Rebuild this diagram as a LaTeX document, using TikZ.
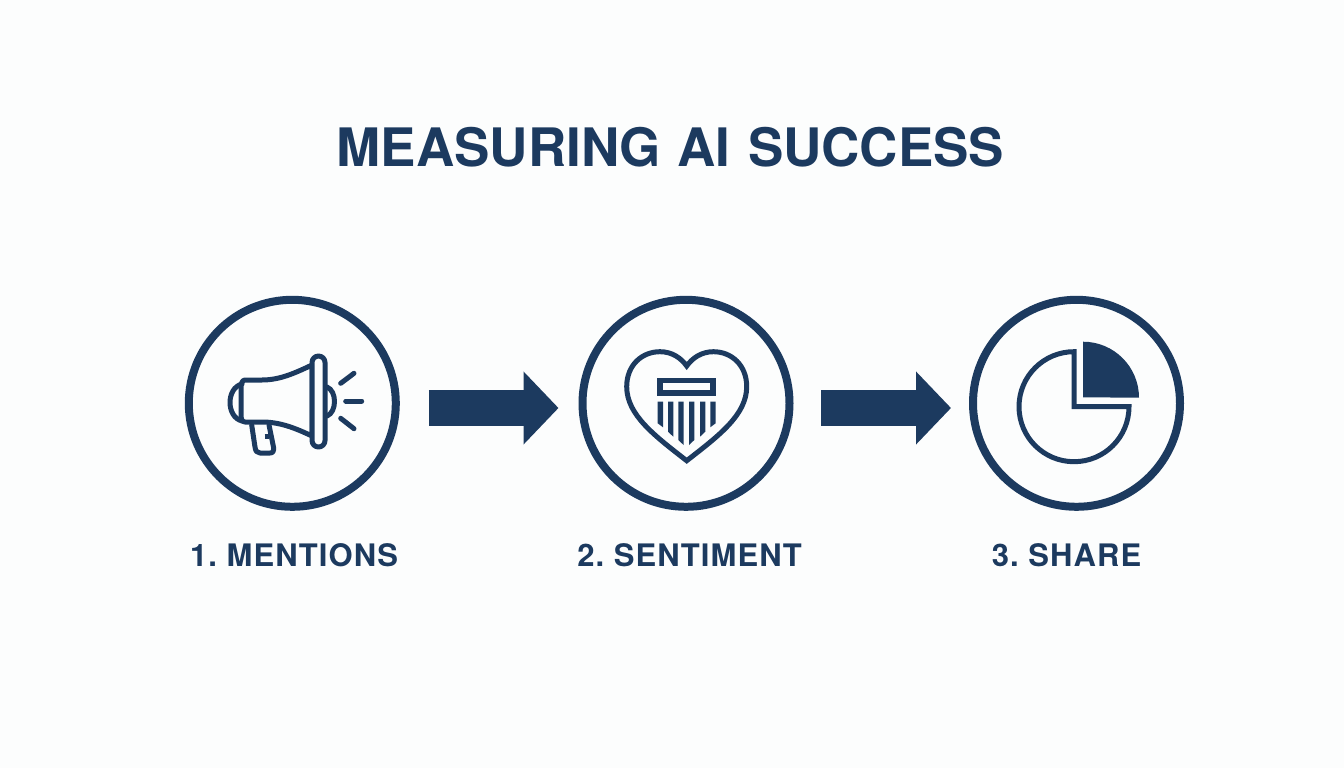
\documentclass[tikz,border=0pt]{standalone}
\usepackage{fontspec}
\setmainfont{TeX Gyre Heros}
\newfontfamily\labelfont[LetterSpace=3.5]{TeX Gyre Heros}
\usepackage{xcolor}
\usetikzlibrary{arrows.meta,positioning}
\definecolor{navy}{HTML}{1C3A5F}
\definecolor{pagebg}{HTML}{FCFDFD}
\frenchspacing
\tikzset{
    stepcircle/.style={circle, draw=navy, line width=8pt, minimum size=207pt, inner sep=0pt},
    steplabel/.style={anchor=base, text=navy, font=\fontsize{31}{31}\labelfont\bfseries},
    titlelabel/.style={anchor=base, text=navy, font=\fontsize{53}{53}\selectfont\bfseries},
    blockarrow/.style={draw=navy, line width=36pt, -{Triangle[length=35pt,width=71pt]}},
    iconline/.style={draw=navy, line width=5pt, line cap=round, line join=round},
}

\begin{document}
\begin{tikzpicture}[x=1pt, y=-1pt]
    \path[use as bounding box, fill=pagebg] (0,0) rectangle (1344,768);

    \node[titlelabel] (title) at (670.5,166) {MEASURING\hspace{1.5pt} AI\hspace{3pt} SUCCESS};

    \node[stepcircle] (mentions) at (292.3,403.3) {};
    \node[stepcircle] (sentiment) at (686,403.3) {};
    \node[stepcircle] (share) at (1076.5,403.3) {};

    \node[steplabel] (mentionslabel) at (294,566) {1. MENTIONS};
    \node[steplabel] (sentimentlabel) at (689.5,566) {2. SENTIMENT};
    \node[steplabel] (sharelabel) at (1066.5,566) {3. SHARE};

    \draw[blockarrow, shorten <=29pt, shorten >=20pt] ([yshift=-4.7pt]mentions.east) -- ([yshift=-4.7pt]sentiment.west);
    \draw[blockarrow, shorten <=27.5pt, shorten >=18pt] ([yshift=-4.7pt]sentiment.east) -- ([yshift=-4.7pt]share.west);

    % megaphone
    \draw[iconline] (245,380) -- (262,380) .. controls (280,380) and (295,373) .. (312,365)
        -- (312,436) .. controls (295,428) and (280,422) .. (262,422) -- (245,422)
        .. controls (241,422) and (241,417) .. (241,414) -- (241,388) .. controls (241,384) and (242,380) .. (245,380);
    \draw[iconline, rounded corners=6.5pt, fill=pagebg] (312,356) rectangle (325,447);
    \draw[iconline] (242,384) .. controls (226,388) and (226,417) .. (242,421);
    \draw[iconline] (327,387) .. controls (337,391) and (337,412) .. (327,416);
    \draw[iconline] (251.7,425) -- (255,447) .. controls (255.5,451) and (257,453) .. (260,453)
        -- (270,453) .. controls (273,453) and (274,451) .. (273.5,447) -- (269,425);
    \draw[iconline, line cap=butt] (264.5,436) -- (269,436);
    \draw[iconline] (340.7,383.3) -- (354,373.3);
    \draw[iconline] (345.7,401) -- (361.7,401);
    \draw[iconline] (340.7,418.3) -- (354,428.7);

    % heart
    \draw[iconline, line join=miter] (686.7,460.7) .. controls (655,436) and (626.7,415) .. (626.7,386.7)
        .. controls (626.7,365) and (642,351.7) .. (660,351.7) .. controls (672,351.7) and (681,358) .. (686.7,366)
        .. controls (692.4,358) and (701.4,351.7) .. (713.4,351.7) .. controls (731.4,351.7) and (746.7,365) .. (746.7,386.7)
        .. controls (746.7,415) and (718.4,436) .. (686.7,460.7) -- cycle;
    \draw[iconline, line width=5.5pt, line join=miter] (660,380.7) rectangle (713,393);
    \foreach \x/\l/\r in {657.7/423.3/427.3, 668/431.7/436.7, 678.3/440/445, 689/445/440, 700/436.7/431.7, 710.3/427.3/423.3}
        \fill[navy] (\x,401.7) -- (\x+5.3,401.7) -- (\x+5.3,\r) -- (\x,\l) -- cycle;

    % pie
    \draw[iconline, line join=miter] (1074,406.7) -- (1074,351.7) arc[start angle=270, end angle=0, radius=55] -- cycle;
    \fill[navy] (1083,397.3) -- (1083,341.7) arc[start angle=270, end angle=360, radius=56] -- cycle;
\end{tikzpicture}
\end{document}
